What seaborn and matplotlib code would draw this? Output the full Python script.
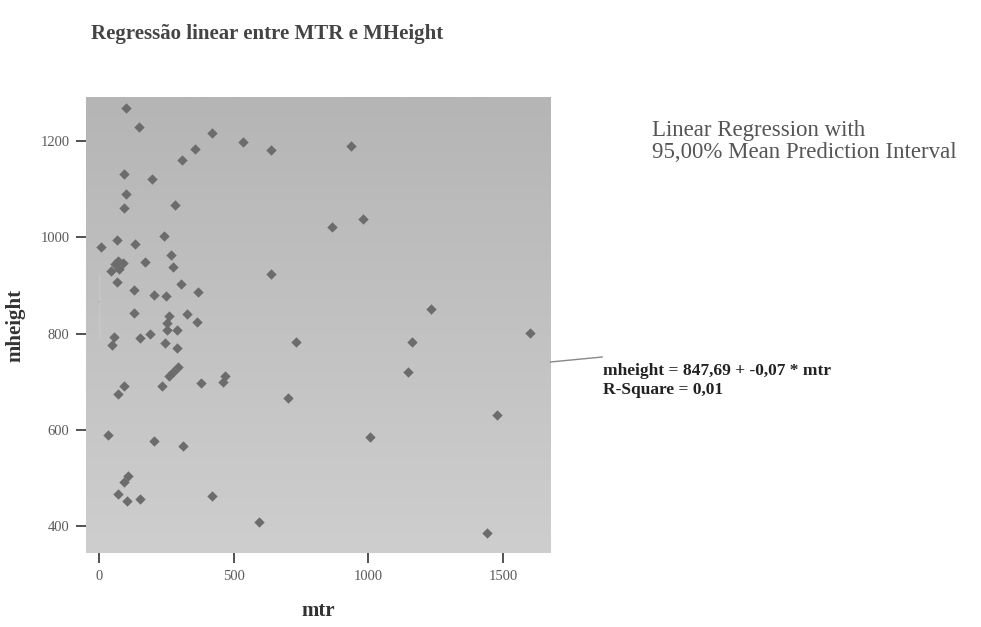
import numpy as np
import pandas as pd
import matplotlib
matplotlib.use("Agg")
import matplotlib.pyplot as plt
import seaborn as sns

mtr = [100, 149, 420, 356, 308, 535, 640, 936, 93, 197, 100, 93, 282, 980, 865,
       8, 67, 134, 241, 266, 171, 276, 45, 60, 70, 75, 88, 68, 303, 129,
       369, 205, 248, 640, 129, 260, 326, 254, 363, 254, 288, 55, 188, 153, 49,
       246, 288, 294, 276, 260, 379, 468, 459, 93, 235, 72, 35, 204, 311, 109,
       94, 72, 103, 152, 421, 594, 731, 1162, 1147, 702, 1006, 1233, 1600, 1478, 1441]
mheight = [1269, 1229, 1217, 1183, 1161, 1198, 1182, 1190, 1131, 1121, 1090, 1061, 1067, 1038, 1021,
           980, 994, 987, 1003, 963, 949, 938, 930, 945, 950, 935, 946, 907, 903, 890,
           887, 880, 877, 923, 843, 836, 841, 821, 824, 807, 807, 793, 800, 790, 776,
           781, 769, 730, 721, 711, 697, 712, 700, 690, 690, 674, 589, 577, 567, 503,
           492, 466, 452, 456, 462, 409, 782, 782, 720, 666, 585, 851, 801, 631, 386]

x_ticks = [0, 500, 1000, 1500]
y_ticks = [400, 600, 800, 1000, 1200]

df = pd.DataFrame({"mtr": mtr, "mheight": mheight})

sns.set_theme(style="white")
plt.rcParams['font.family'] = ['Liberation Serif', 'DejaVu Serif']

fig = plt.figure(figsize=(9.81, 6.27), dpi=100)
fig.patch.set_facecolor("white")
ax = fig.add_axes([0.0877, 0.118, 0.474, 0.727])

# grey gradient background like the scanned plot area (darker at top)
grad = np.linspace(0, 1, 256).reshape(-1, 1)
ax.imshow(grad, extent=[0, 1, 0, 1], transform=ax.transAxes, aspect="auto",
          cmap=matplotlib.colors.LinearSegmentedColormap.from_list("g", ["#b5b5b5", "#cecece"]),
          zorder=0)

sns.regplot(data=df, x="mtr", y="mheight", ax=ax, scatter=False, ci=95, truncate=False,
            line_kws=dict(color="#a2a2a2", lw=1.0, zorder=2), color="#c4c4c4")
for c in ax.collections:
    c.set_alpha(0.12)
sns.scatterplot(data=df, x="mtr", y="mheight", ax=ax, marker="D", s=28,
                color="#6c6c6c", edgecolor="#6c6c6c", linewidth=0, zorder=3)

ax.set_xlim(-48, 1678)
ax.set_ylim(344, 1291)
ax.set_xticks(x_ticks)
ax.set_yticks(y_ticks)
ax.tick_params(axis="both", which="both", direction="out", length=7, width=1.2,
               color="#333333", labelsize=10.5, labelcolor="#5a5a5a", pad=5,
               bottom=True, left=True)
for s in ax.spines.values():
    s.set_visible(False)

ax.set_xlabel("mtr", fontsize=15, fontweight="bold", color="#333333")
ax.set_ylabel("mheight", fontsize=15, fontweight="bold", color="#333333")
ax.xaxis.set_label_coords(0.5, -0.105)
ax.yaxis.set_label_coords(-0.13, 0.5)

fig.text(0.093, 0.945, "Regressão linear entre MTR e MHeight", fontsize=15,
         fontweight="bold", color="#444444", va="center", ha="left")

fig.text(0.665, 0.792, "Linear Regression with", fontsize=16.5, color="#555555",
         va="center", ha="left")
fig.text(0.665, 0.757, "95,00% Mean Prediction Interval", fontsize=16.5, color="#555555",
         va="center", ha="left")

fig.text(0.615, 0.408, "mheight = 847,69 + -0,07 * mtr", fontsize=12.5,
         fontweight="bold", color="#222222", va="center", ha="left")
fig.text(0.615, 0.378, "R-Square = 0,01", fontsize=12.5,
         fontweight="bold", color="#222222", va="center", ha="left")

fig.add_artist(matplotlib.lines.Line2D([0.561, 0.614], [1 - 362 / 627, 1 - 357 / 627],
                                       color="#888888", lw=1.0))

fig.savefig("out.png", dpi=100, facecolor="white")
